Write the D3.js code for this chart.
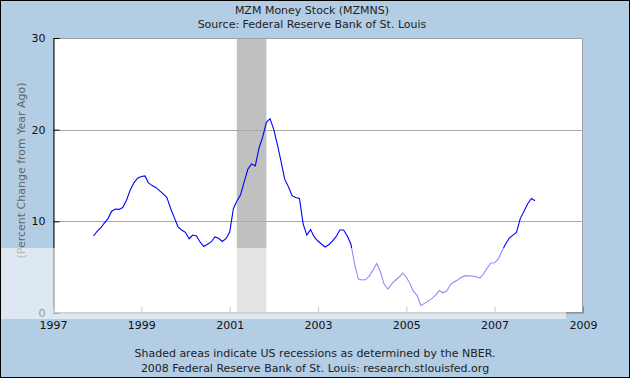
<!DOCTYPE html>
<html><head><meta charset="utf-8">
<script src="https://cdn.jsdelivr.net/npm/d3@7"></script>
<style>
body{margin:0;background:#fff;}
svg{display:block;font-family:"DejaVu Sans",Verdana,sans-serif;}
</style>
</head><body>
<svg id="chart" width="630" height="378"></svg>
<script>
// ---- data ----
const firstMonth = [1997, 11]; // December 1997 (year, zero-based month)
const mzmYoY = [
  8.4, 8.9, 9.3, 9.8, 10.3, 11.1, 11.35, 11.3, 11.5, 12.3, 13.4, 14.2,
  14.7, 14.9, 14.95, 14.2, 13.9, 13.7, 13.35, 13.0, 12.6, 11.4, 10.4, 9.4,
  9.05, 8.8, 8.1, 8.5, 8.4, 7.75, 7.25, 7.5, 7.75, 8.3, 8.15, 7.8,
  8.1, 8.8, 11.4, 12.2, 12.9, 14.3, 15.7, 16.25, 16.05, 18.0, 19.2, 20.8,
  21.2, 20.0, 18.3, 16.6, 14.6, 13.8, 12.8, 12.6, 12.5, 9.7, 8.5, 9.1,
  8.3, 7.85, 7.5, 7.2, 7.45, 7.85, 8.35, 9.05, 9.05, 8.4, 7.5, 5.3,
  3.7, 3.6, 3.65, 4.05, 4.7, 5.4, 4.5, 3.15, 2.6, 3.15, 3.55, 3.9,
  4.35, 3.9, 3.2, 2.35, 1.9, 0.8, 1.05, 1.3, 1.6, 1.95, 2.45, 2.2,
  2.4, 3.1, 3.4, 3.6, 3.9, 4.05, 4.05, 4.04, 3.95, 3.8, 4.25, 4.9,
  5.45, 5.48, 5.9, 6.7, 7.5, 8.15, 8.5, 8.8, 10.3, 11.1, 11.9, 12.5,
  12.25
];
const recessionStarts = ["2001-03-01"];
const recessionEnds = ["2001-11-01"];
const xTickYears = [1997, 1999, 2001, 2003, 2005, 2007, 2009];
const yTickValues = [0, 10, 20, 30];
const titleText = "MZM Money Stock (MZMNS)";
const subtitleText = "Source: Federal Reserve Bank of St. Louis";
const yAxisLabel = "(Percent Change from Year Ago)";
const footerLines = [
  "Shaded areas indicate US recessions as determined by the NBER.",
  "2008 Federal Reserve Bank of St. Louis: research.stlouisfed.org"
];

// ---- layout ----
const W = 630, H = 378;
const plot = {left: 53, right: 583, top: 38, bottom: 313};
const svg = d3.select("#chart");

const x = d3.scaleTime()
  .domain([new Date(1997, 0, 1), new Date(2009, 0, 1)])
  .range([plot.left, plot.right]);
const y = d3.scaleLinear().domain([0, 30]).range([plot.bottom, plot.top]);

const series = mzmYoY.map((v, i) => ({date: new Date(firstMonth[0], firstMonth[1] + i, 1), value: v}));
const parse = d3.timeParse("%Y-%m-%d");

// background
svg.append("rect").attr("x", 0).attr("y", 0).attr("width", W).attr("height", H)
  .attr("fill", "#b3cde4");

// plot area
svg.append("rect").attr("x", plot.left).attr("y", plot.top)
  .attr("width", plot.right - plot.left).attr("height", plot.bottom - plot.top)
  .attr("fill", "#ffffff");

// recessions
svg.append("g").selectAll("rect").data(recessionStarts.map((s, i) => [parse(s), parse(recessionEnds[i])]))
  .join("rect")
  .attr("x", d => x(d[0])).attr("y", plot.top)
  .attr("width", d => x(d[1]) - x(d[0])).attr("height", plot.bottom - plot.top)
  .attr("fill", "#c0c0c0");

// gridlines
svg.append("g").selectAll("line").data(yTickValues.filter(v => v > 0 && v < 30))
  .join("line")
  .attr("x1", plot.left).attr("x2", plot.right)
  .attr("y1", d => Math.round(y(d)) + 0.5).attr("y2", d => Math.round(y(d)) + 0.5)
  .attr("stroke", "#a8a8a8").attr("stroke-width", 1);

// frame
svg.append("rect").attr("x", plot.left + 0.5).attr("y", plot.top + 0.5)
  .attr("width", plot.right - plot.left - 1).attr("height", plot.bottom - plot.top - 1)
  .attr("fill", "none").attr("stroke", "#a0a0a0");

// y axis
const yAxis = d3.axisRight(y).tickValues(yTickValues).tickSize(6).tickFormat(d3.format("d"));
const gy = svg.append("g").attr("transform", `translate(${plot.left + 0.5},0)`).call(yAxis);
gy.select(".domain").attr("stroke", "#000");
gy.selectAll(".tick line").attr("stroke", "#000");
gy.selectAll(".tick text").attr("x", -8).attr("text-anchor", "end")
  .attr("font-size", 11).attr("fill", "#111").attr("font-family", "DejaVu Sans, Verdana, sans-serif");

// x axis
const xAxis = d3.axisTop(x).tickValues(xTickYears.map(yr => new Date(yr, 0, 1))).tickSize(6)
  .tickFormat(d3.timeFormat("%Y"));
const gx = svg.append("g").attr("transform", `translate(0,${plot.bottom - 0.5})`).call(xAxis);
gx.select(".domain").attr("stroke", "#888");
gx.selectAll(".tick line").attr("stroke", "#888");
gx.selectAll(".tick text").attr("y", 16).attr("dy", 0)
  .attr("font-size", 11).attr("fill", "#111").attr("font-family", "DejaVu Sans, Verdana, sans-serif");

// series line
const line = d3.line().x(d => x(d.date)).y(d => y(d.value));
svg.append("path").datum(series).attr("d", line)
  .attr("fill", "none").attr("stroke", "#0000ff").attr("stroke-width", 1.1);

// titles
svg.append("text").attr("x", W / 2 - 3).attr("y", 14).attr("text-anchor", "middle")
  .attr("font-size", 11).attr("fill", "#222").text(titleText);
svg.append("text").attr("x", W / 2 - 3).attr("y", 28).attr("text-anchor", "middle")
  .attr("font-size", 11).attr("fill", "#222").text(subtitleText);

// y label
svg.append("text").attr("transform", `translate(25,${(plot.top + plot.bottom) / 2 - 5}) rotate(-90)`)
  .attr("text-anchor", "middle").attr("font-size", 11).attr("fill", "#666").text(yAxisLabel);

// footer
svg.append("g").selectAll("text").data(footerLines).join("text")
  .attr("x", W / 2).attr("y", (d, i) => 357 + i * 14.5).attr("text-anchor", "middle")
  .attr("font-size", 11).attr("fill", "#222").text(d => d);

// translucent watermark band (as in the reference image)
svg.append("rect").attr("x", 0).attr("y", 248).attr("width", 566).attr("height", 71)
  .attr("fill", "#ffffff").attr("opacity", 0.55);

// outer border
svg.append("rect").attr("x", 0.5).attr("y", 0.5).attr("width", W - 1).attr("height", H - 1)
  .attr("fill", "none").attr("stroke", "#000");
</script>
</body></html>
